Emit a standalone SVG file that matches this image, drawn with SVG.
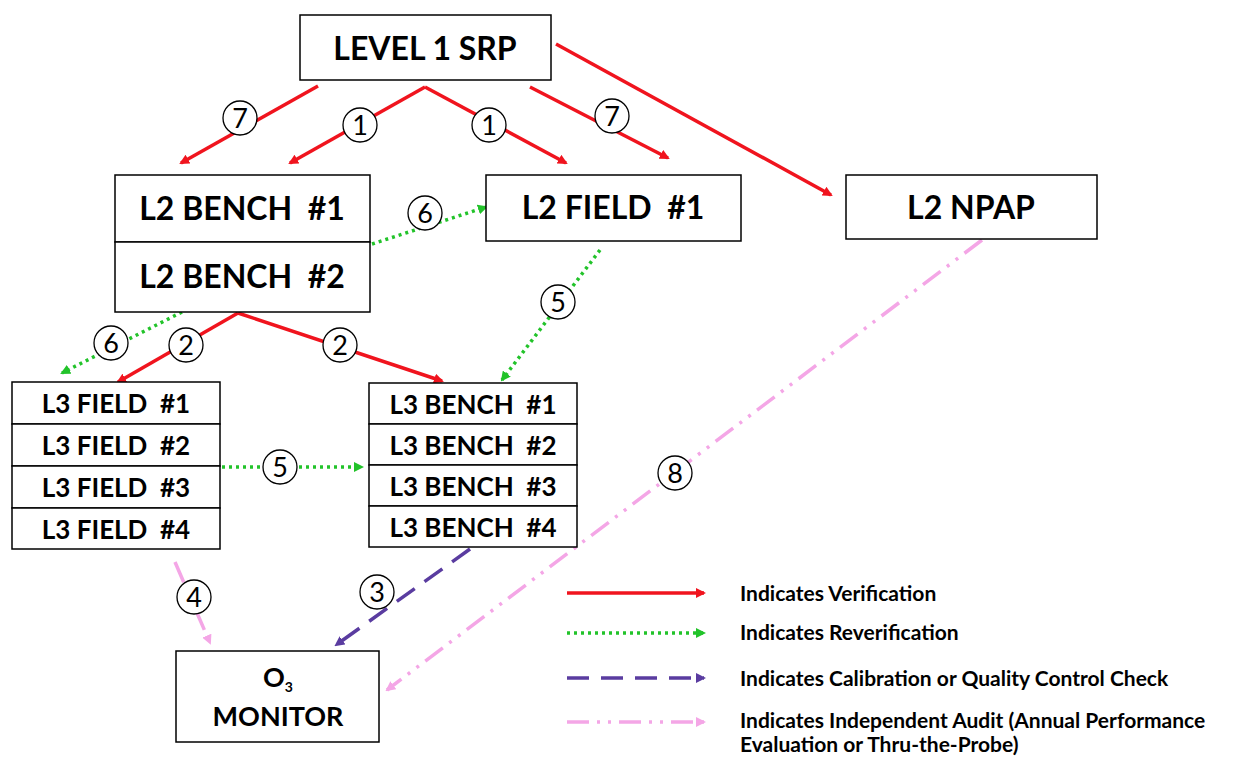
<svg xmlns="http://www.w3.org/2000/svg" width="1233" height="760" viewBox="0 0 1233 760">
<style>
.box{fill:#fff;stroke:#000;stroke-width:1.5}
.t{font-family:Lato,"Liberation Sans",sans-serif;font-weight:bold;fill:#000;text-anchor:middle;white-space:pre}
.big{font-size:32px}
.mid{font-size:26px}
.mon{font-size:27px}
.num{font-family:Lato,"Liberation Sans",sans-serif;font-size:27px;fill:#000;text-anchor:middle}
.c{fill:#fff;stroke:#000;stroke-width:1.3}
.red{stroke:#f0141e;stroke-width:3.5;fill:none;marker-end:url(#ar)}
.grn{stroke:#22c32a;stroke-width:3.5;stroke-dasharray:3 4;fill:none;marker-end:url(#ag)}
.pur{stroke:#5a3ca0;stroke-width:3.5;stroke-dasharray:22 12;fill:none;marker-end:url(#ap)}
.pnk{stroke:#f4a6e6;stroke-width:3.5;stroke-dasharray:22 8 3 8 3 8;fill:none;marker-end:url(#ak)}
.leg{font-family:Lato,"Liberation Sans",sans-serif;font-weight:bold;font-size:21px;fill:#000}
</style>
<defs>
<marker id="ar" markerWidth="10" markerHeight="10" refX="8" refY="5" orient="auto" markerUnits="userSpaceOnUse"><path d="M0,0 L10,5 L0,10 z" fill="#f0141e"/></marker>
<marker id="ag" markerWidth="10" markerHeight="10" refX="8" refY="5" orient="auto" markerUnits="userSpaceOnUse"><path d="M0,0 L10,5 L0,10 z" fill="#22c32a"/></marker>
<marker id="ap" markerWidth="10" markerHeight="10" refX="8" refY="5" orient="auto" markerUnits="userSpaceOnUse"><path d="M0,0 L10,5 L0,10 z" fill="#5a3ca0"/></marker>
<marker id="ak" markerWidth="10" markerHeight="10" refX="8" refY="5" orient="auto" markerUnits="userSpaceOnUse"><path d="M0,0 L10,5 L0,10 z" fill="#f4a6e6"/></marker>
</defs>
<rect width="1233" height="760" fill="#fff"/>

<g id="connectors">
<line class="red" x1="318" y1="86" x2="181" y2="163"/>
<line class="red" x1="425" y1="87" x2="290" y2="163"/>
<line class="red" x1="425" y1="87" x2="566" y2="163"/>
<line class="red" x1="530" y1="87" x2="668" y2="158"/>
<line class="red" x1="556" y1="44" x2="831" y2="195"/>
<line class="grn" x1="372" y1="244" x2="486" y2="207"/>
<line class="grn" x1="600" y1="250" x2="502" y2="380"/>
<line class="red" x1="238" y1="313" x2="118" y2="382"/>
<line class="red" x1="238" y1="313" x2="442" y2="381"/>
<line class="grn" x1="182" y1="312" x2="62" y2="373"/>
<line class="grn" x1="222" y1="467" x2="362" y2="467"/>
<line class="pur" x1="470" y1="549" x2="336" y2="645"/>
<line class="pnk" x1="175" y1="562" x2="210" y2="643"/>
<line class="pnk" x1="982" y1="240" x2="387" y2="690"/>
<g id="labels">
<circle class="c" cx="240" cy="118" r="17"/><text class="num" x="240" y="128">7</text>
<circle class="c" cx="360" cy="125" r="17"/><text class="num" x="360" y="135">1</text>
<circle class="c" cx="489" cy="125" r="17"/><text class="num" x="489" y="135">1</text>
<circle class="c" cx="612" cy="116" r="17"/><text class="num" x="612" y="126">7</text>
<circle class="c" cx="425" cy="213" r="17"/><text class="num" x="425" y="223">6</text>
<circle class="c" cx="558" cy="302" r="17"/><text class="num" x="558" y="312">5</text>
<circle class="c" cx="111" cy="343" r="17"/><text class="num" x="111" y="353">6</text>
<circle class="c" cx="186" cy="345" r="17"/><text class="num" x="186" y="355">2</text>
<circle class="c" cx="340" cy="345" r="17"/><text class="num" x="340" y="355">2</text>
<circle class="c" cx="280" cy="467" r="17"/><text class="num" x="280" y="477">5</text>
<circle class="c" cx="675" cy="473" r="17"/><text class="num" x="675" y="483">8</text>
<circle class="c" cx="194" cy="597" r="17"/><text class="num" x="194" y="607">4</text>
<circle class="c" cx="377" cy="592" r="17"/><text class="num" x="377" y="602">3</text>
</g>
</g>

<g id="level1">
<rect class="box" x="300" y="15" width="251" height="65"/>
<text class="t big" x="425" y="60">LEVEL 1 SRP</text>
</g>
<g id="l2bench">
<rect class="box" x="115" y="175" width="255" height="67"/>
<text class="t big" x="242" y="220">L2 BENCH  #1</text>
<rect class="box" x="115" y="242" width="255" height="70"/>
<text class="t big" x="242" y="288">L2 BENCH  #2</text>
</g>
<g id="l2field">
<rect class="box" x="486" y="175" width="255" height="66"/>
<text class="t big" x="613" y="219">L2 FIELD  #1</text>
</g>
<g id="l2npap">
<rect class="box" x="846" y="175" width="251" height="64"/>
<text class="t big" x="971" y="219">L2 NPAP</text>
</g>
<g id="l3field">
<rect class="box" x="12" y="382" width="208" height="42"/>
<text class="t mid" x="116" y="413">L3 FIELD  #1</text>
<rect class="box" x="12" y="424" width="208" height="42"/>
<text class="t mid" x="116" y="455">L3 FIELD  #2</text>
<rect class="box" x="12" y="466" width="208" height="42"/>
<text class="t mid" x="116" y="497">L3 FIELD  #3</text>
<rect class="box" x="12" y="508" width="208" height="41"/>
<text class="t mid" x="116" y="539">L3 FIELD  #4</text>
</g>
<g id="l3bench">
<rect class="box" x="369" y="383" width="208" height="41"/>
<text class="t mid" x="473" y="414">L3 BENCH  #1</text>
<rect class="box" x="369" y="424" width="208" height="41"/>
<text class="t mid" x="473" y="455">L3 BENCH  #2</text>
<rect class="box" x="369" y="465" width="208" height="41"/>
<text class="t mid" x="473" y="496">L3 BENCH  #3</text>
<rect class="box" x="369" y="506" width="208" height="41"/>
<text class="t mid" x="473" y="537">L3 BENCH  #4</text>
</g>
<g id="monitor">
<rect class="box" x="176" y="651" width="203" height="91"/>
<text class="t mon" x="278" y="687">O<tspan font-size="14" dy="5">3</tspan></text>
<text class="t mon" x="278" y="726">MONITOR</text>
</g>

<g id="legend">
<line class="red" x1="567" y1="593" x2="704" y2="593"/>
<line class="grn" x1="567" y1="633" x2="704" y2="633"/>
<line class="pur" x1="567" y1="678" x2="704" y2="678" stroke-dasharray="22 14"/>
<line class="pnk" x1="567" y1="722" x2="704" y2="722"/>
<text class="leg" x="740" y="601">Indicates Verification</text>
<text class="leg" x="740" y="640">Indicates Reverification</text>
<text class="leg" x="740" y="686">Indicates Calibration or Quality Control Check</text>
<text class="leg" x="740" y="728">Indicates Independent Audit (Annual Performance</text>
<text class="leg" x="740" y="752">Evaluation or Thru-the-Probe)</text>
</g>
</svg>
